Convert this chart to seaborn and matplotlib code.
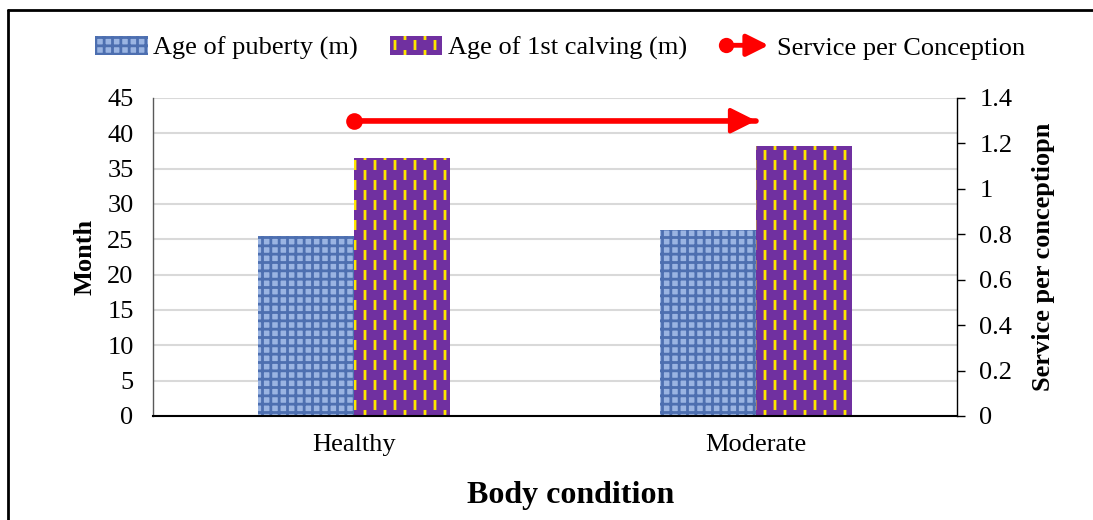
import numpy as np
import pandas as pd
import matplotlib
matplotlib.use("Agg")
import matplotlib.pyplot as plt
import seaborn as sns
from matplotlib import hatch as mhatch
from matplotlib.path import Path
from matplotlib.patches import Patch, FancyArrowPatch
from matplotlib.lines import Line2D
from matplotlib.legend_handler import HandlerBase

# data
conditions = ["Healthy", "Moderate"]
age_puberty = [25.5, 26.3]
age_calving = [36.5, 38.2]
service_per_conception = [1.3, 1.3]
series_names = ["Age of puberty (m)", "Age of 1st calving (m)"]


# staggered short vertical dashes for the calving bars (replaces the plain '|' hatch)
class StaggeredDashes(mhatch.HatchPatternBase):
    def __init__(self, hatch, density):
        self.cols = 10 if hatch.count('|') else 0
        self.rows = 5
        self.num_vertices = self.cols * self.rows * 2

    def set_vertices_and_codes(self, vertices, codes):
        k = 0
        half = 0.18 / self.rows
        for c in range(self.cols):
            x = (c + 0.5) / self.cols
            off = 0.25 if c % 2 == 0 else 0.75
            for r in range(self.rows):
                yc = (r + off) / self.rows
                vertices[k] = (x, yc - half)
                vertices[k + 1] = (x, yc + half)
                codes[k] = Path.MOVETO
                codes[k + 1] = Path.LINETO
                k += 2


# vertical lines only for '+', so '+' still draws a grid
class PlusVertical(mhatch.HatchPatternBase):
    def __init__(self, hatch, density):
        self.num_lines = int(hatch.count('+') * density)
        self.num_vertices = self.num_lines * 2 if self.num_lines else 0

    def set_vertices_and_codes(self, vertices, codes):
        steps, stepsize = np.linspace(0.0, 1.0, self.num_lines, False, retstep=True)
        steps += stepsize / 2.
        vertices[0::2, 0] = steps
        vertices[0::2, 1] = 0.0
        vertices[1::2, 0] = steps
        vertices[1::2, 1] = 1.0
        codes[0::2] = Path.MOVETO
        codes[1::2] = Path.LINETO


mhatch._hatch_types = [h for h in mhatch._hatch_types if h is not mhatch.VerticalHatch]
mhatch._hatch_types += [PlusVertical, StaggeredDashes]

sns.set_theme(style="white")
plt.rcParams['font.family'] = ['Liberation Serif', 'DejaVu Serif']
plt.rcParams['hatch.linewidth'] = 2.0
for k in ["text.color", "axes.labelcolor", "xtick.color", "ytick.color"]:
    plt.rcParams[k] = "black"

df = pd.DataFrame({
    "condition": conditions * 2,
    "value": age_puberty + age_calving,
    "series": [series_names[0]] * 2 + [series_names[1]] * 2,
})

fig = plt.figure(figsize=(10.93, 5.2), dpi=100)
ax = fig.add_axes([153 / 1093, 1 - 416 / 520, (957 - 153) / 1093, (416 - 98) / 520])

pub_face, pub_tex = "#9ab4e2", "#4d6fb0"
calv_face, calv_tex = "#7030a0", "#ffe600"
colors = {series_names[0]: pub_face, series_names[1]: calv_face}
sns.barplot(data=df, x="condition", y="value", hue="series", palette=colors,
            width=0.48, gap=0, saturation=1, legend=False, ax=ax)

pub_bars, calv_bars = ax.containers[0], ax.containers[1]
for b in pub_bars:
    b.set_edgecolor(pub_tex)
    b.set_linewidth(0)
    b.set_hatch("++")
for b in calv_bars:
    b.set_edgecolor(calv_tex)
    b.set_linewidth(0)
    b.set_hatch("|")

ax.set_ylim(0, 45)
ax.set_yticks(np.arange(0, 46, 5))
ax.set_xlim(-0.5, 1.5)
ax.yaxis.grid(True, color="#d9d9d9", lw=1.5)
ax.set_axisbelow(True)
for s in ["top", "right"]:
    ax.spines[s].set_visible(False)
ax.spines["left"].set_color("#595959")
ax.spines["left"].set_linewidth(1)
ax.spines["bottom"].set_color("black")
ax.spines["bottom"].set_linewidth(1.5)
ax.tick_params(axis="y", length=0, pad=14, labelsize=19)
ax.tick_params(axis="x", length=0, pad=13, labelsize=19)
ax.set_ylabel("Month", fontsize=19, fontweight="bold", labelpad=8)
ax.set_xlabel("Body condition", fontsize=23, fontweight="bold")
ax.xaxis.set_label_coords(0.519, -0.205)

ax2 = ax.twinx()
sns.lineplot(x=[0, 1], y=service_per_conception, color="red", lw=4,
             marker="o", markevery=[0], markersize=12, markeredgewidth=0, ax=ax2)
ax2.annotate("", xy=(1, service_per_conception[1]), xytext=(0, service_per_conception[0]),
             arrowprops=dict(arrowstyle="-|>,head_length=1.1,head_width=0.55",
                             color="red", lw=3, shrinkA=0, shrinkB=0, mutation_scale=14))
ax2.set_ylim(0, 1.4)
ax2.set_yticks([0, 0.2, 0.4, 0.6, 0.8, 1.0, 1.2, 1.4])
ax2.set_yticklabels(["0", "0.2", "0.4", "0.6", "0.8", "1", "1.2", "1.4"])
for s in ["top", "left", "bottom"]:
    ax2.spines[s].set_visible(False)
ax2.spines["right"].set_color("black")
ax2.spines["right"].set_linewidth(1)
ax2.tick_params(axis="y", length=6, width=1, color="black", pad=10, labelsize=19, right=True)
ax2.set_ylabel("Service per conceptiopn", fontsize=19, fontweight="bold", labelpad=14)
ax2.grid(False)


class ArrowHandler(HandlerBase):
    def create_artists(self, legend, orig, xd, yd, w, h, fontsize, trans):
        y = h / 2 - yd
        arr = FancyArrowPatch((-xd + 4, y), (-xd + w, y),
                              arrowstyle="-|>,head_length=1.1,head_width=0.55",
                              mutation_scale=12, color="red", lw=3.5, transform=trans)
        dot = Line2D([-xd + 5], [y], marker="o", markersize=11, color="red",
                     markeredgewidth=0, transform=trans)
        return [arr, dot]


handles = [
    Patch(facecolor=pub_face, edgecolor=pub_tex, hatch="++", lw=0),
    Patch(facecolor=calv_face, edgecolor=calv_tex, hatch="|", lw=0),
    Line2D([], [], color="red"),
]
labels = series_names + ["Service per Conception"]
fig.legend(handles, labels, loc="center", bbox_to_anchor=(560 / 1093, 1 - 48 / 520), ncol=3,
           frameon=False, fontsize=19, handlelength=2.0, handleheight=0.7,
           handletextpad=0.2, columnspacing=1.2,
           handler_map={handles[2]: ArrowHandler()})

# outer frame (cropped at right/bottom as in the original)
fig.add_artist(Line2D([8 / 1093, 8 / 1093], [0, 1 - 10 / 520], color="black", lw=2,
                      transform=fig.transFigure))
fig.add_artist(Line2D([8 / 1093, 1], [1 - 10 / 520, 1 - 10 / 520], color="black", lw=2,
                      transform=fig.transFigure))

fig.savefig("out.png", dpi=100)
